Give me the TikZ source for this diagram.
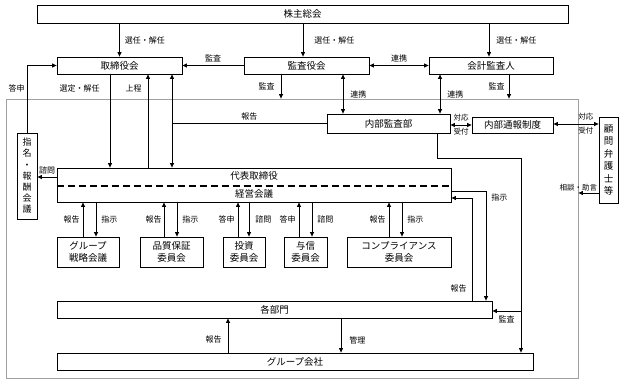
\documentclass[tikz,border=0pt]{standalone}
\usepackage{fontspec}
\setmainfont{Noto Sans CJK JP}
\usetikzlibrary{arrows.meta,positioning}
\definecolor{framegray}{HTML}{A0A0A0}
\tikzset{box/.style={draw=black,line width=.8pt,align=center,font=\fontsize{9.5}{12}\selectfont,inner sep=0pt},
lbl/.style={font=\fontsize{8}{9}\selectfont,inner sep=0pt},
smalllbl/.style={font=\fontsize{7.5}{8}\selectfont,inner sep=1pt},
arr/.style={-{Triangle[length=4.5pt,width=4pt]},line width=.8pt},
dbl/.style={{Triangle[length=4.5pt,width=4pt]}-{Triangle[length=4.5pt,width=4pt]},line width=.8pt}}

\begin{document}
\begin{tikzpicture}[x=1pt,y=-1pt]
\useasboundingbox (0,0) rectangle (624,385);
% company frame
\node[draw=framegray,line width=.8pt,minimum width=572pt,minimum height=279pt,inner sep=0pt] (frame) at (292,238.5) {};
% boxes
\node[box,minimum width=531pt,minimum height=18pt] (soukai) at (302.5,14) {株主総会};
\node[box,minimum width=125pt,minimum height=17pt] (tori) at (119.5,65.5) {取締役会};
\node[box,minimum width=125pt,minimum height=17pt] (kansa) at (306.5,65.5) {監査役会};
\node[box,minimum width=124pt,minimum height=17pt] (kaikei) at (491,65.5) {会計監査人};
\node[box,minimum width=123pt,minimum height=19pt] (naibu) at (388.5,123.5) {内部監査部};
\node[box,minimum width=81pt,minimum height=16pt] (tsuho) at (512.5,125) {内部通報制度};
\node[box,minimum width=19pt,minimum height=86pt,font=\fontsize{9.5}{12.5}\selectfont] (bengo) at (608.5,160) {顧\\問\\弁\\護\\士\\等};
\node[box,minimum width=20pt,minimum height=86pt,font=\fontsize{9}{11.2}\selectfont] (shimei) at (27,176) {指\\名\\・\\報\\酬\\会\\議};
\node[box,minimum width=394pt,minimum height=34pt] (daihyo) at (254,185) {代表取締役\\[6.5pt]経営会議};
\draw[line width=2pt,dash pattern=on 7pt off 4pt] ([yshift=-1pt]daihyo.west) -- ([yshift=-1pt]daihyo.east);
\node[box,minimum width=62pt,minimum height=30pt] (grp) at (88,252) {グループ\\戦略会議};
\node[box,minimum width=63pt,minimum height=30pt] (hinshitsu) at (171.5,252) {品質保証\\委員会};
\node[box,minimum width=42pt,minimum height=30pt] (toshi) at (244,252) {投資\\委員会};
\node[box,minimum width=43pt,minimum height=30pt] (yoshin) at (305.5,252) {与信\\委員会};
\node[box,minimum width=104pt,minimum height=30pt] (comp) at (399,252) {コンプライアンス\\委員会};
\node[box,minimum width=435pt,minimum height=17pt] (kakubu) at (274.5,309.5) {各部門};
\node[box,minimum width=476pt,minimum height=17pt] (gkaisha) at (295,361.5) {グループ会社};
% shareholders and auditors
\draw[arr] (soukai.south -| tori.north) -- (tori.north) node[lbl,midway,right=5pt]{選任・解任};
\draw[arr] ([xshift=-3.5pt]kansa.north |- soukai.south) -- ([xshift=-3.5pt]kansa.north) node[lbl,midway,right=11pt]{選任・解任};
\draw[arr] ([xshift=-2pt]kaikei.north |- soukai.south) -- ([xshift=-2pt]kaikei.north) node[lbl,midway,right=7pt]{選任・解任};
\draw[arr] (kansa.west) -- (tori.east) node[lbl,midway,above=3pt]{監査};
\draw[dbl] (kansa.east) -- (kaikei.west) node[lbl,midway,above=3pt]{連携};
\draw[arr] ([xshift=-25.5pt]kansa.south) -- ([xshift=-25.5pt]kansa.south |- frame.north) node[lbl,midway,left=6pt]{監査};
\draw[arr] ([xshift=18pt]kaikei.south) -- ([xshift=18pt]kaikei.south |- frame.north) node[lbl,midway,left=4pt]{監査};
\draw[dbl] ([xshift=36.5pt]kansa.south) -- ([xshift=36.5pt]kansa.south |- naibu.north) node[lbl,midway,right=7pt]{連携};
\draw[dbl] ([xshift=-51pt]kaikei.south) -- ([xshift=-51pt]kaikei.south |- naibu.north) node[lbl,midway,right=7pt]{連携};
% internal audit and whistleblowing
\draw[dbl] (naibu.east |- tsuho.west) -- (tsuho.west) node[smalllbl,midway,above=2pt]{対応} node[smalllbl,midway,below=2pt]{受付};
\draw[dbl] ([yshift=1pt]tsuho.east) -- ([yshift=1pt]tsuho.east -| bengo.west) node[smalllbl,pos=.72,above=2pt]{対応} node[smalllbl,pos=.72,below=2pt]{受付};
\draw[arr] ([yshift=-33pt]bengo.west) -- ([yshift=-33pt]bengo.west -| frame.east) node[smalllbl,pos=0,above left]{相談・助言};
\draw[arr] (naibu.west) -| ([xshift=52.5pt]tori.south) node[lbl,pos=.25,above=3pt]{報告};
\draw[arr] ([xshift=52.5pt]tori.south |- naibu.west) -- ([xshift=52.5pt]tori.south |- daihyo.north);
% board and representative director
\draw[arr] ([xshift=-9.5pt]tori.south) -- ([xshift=-9.5pt]tori.south |- daihyo.north) node[lbl,pos=.15,left=10pt]{選定・解任};
\draw[arr] ([xshift=28.5pt]tori.south |- daihyo.north) -- ([xshift=28.5pt]tori.south) node[lbl,pos=.85,left=6pt]{上程};
\draw[arr] (shimei.north) |- (tori.west) node[lbl,pos=.33,left=2pt]{答申};
\draw[arr] ([yshift=8pt]daihyo.west) -- ([yshift=8pt]daihyo.west -| shimei.east) node[lbl,midway,above=2pt]{諮問};
% committees
\draw[arr] ([xshift=-5pt]grp.north) -- ([xshift=-5pt]grp.north |- daihyo.south) node[lbl,midway,left=3pt]{報告};
\draw[arr] ([xshift=8pt]grp.north |- daihyo.south) -- ([xshift=8pt]grp.north) node[lbl,midway,right=5pt]{指示};
\draw[arr] ([xshift=-7.5pt]hinshitsu.north) -- ([xshift=-7.5pt]hinshitsu.north |- daihyo.south) node[lbl,midway,left=2pt]{報告};
\draw[arr] ([xshift=5.5pt]hinshitsu.north |- daihyo.south) -- ([xshift=5.5pt]hinshitsu.north) node[lbl,midway,right=5pt]{指示};
\draw[arr] ([xshift=-6pt]toshi.north) -- ([xshift=-6pt]toshi.north |- daihyo.south) node[lbl,midway,left=3pt]{答申};
\draw[arr] ([xshift=5pt]toshi.north |- daihyo.south) -- ([xshift=5pt]toshi.north) node[lbl,midway,right=6pt]{諮問};
\draw[arr] ([xshift=-6.5pt]yoshin.north) -- ([xshift=-6.5pt]yoshin.north |- daihyo.south) node[lbl,midway,left=3pt]{答申};
\draw[arr] ([xshift=6.5pt]yoshin.north |- daihyo.south) -- ([xshift=6.5pt]yoshin.north) node[lbl,midway,right=5pt]{諮問};
\draw[arr] ([xshift=-10pt]comp.north) -- ([xshift=-10pt]comp.north |- daihyo.south) node[lbl,midway,left=3pt]{報告};
\draw[arr] ([xshift=3pt]comp.north |- daihyo.south) -- ([xshift=3pt]comp.north) node[lbl,midway,right=5pt]{指示};
% departments and group companies
\draw[arr] ([yshift=-6pt]daihyo.east) -| ([xshift=211.5pt]kakubu.north) node[lbl,pos=.53,right=5pt]{指示};
\draw[arr] ([xshift=197.5pt]kakubu.north) |- ([yshift=-13pt]daihyo.east) node[lbl,pos=.06,left=5pt]{報告};
\draw[arr] ([xshift=-67pt]gkaisha.north) -- ([xshift=-67pt]gkaisha.north |- kakubu.south) node[lbl,pos=.37,left=6pt]{報告};
\draw[arr] ([xshift=66.5pt]kakubu.south) -- ([xshift=66.5pt]kakubu.south |- gkaisha.north) node[lbl,pos=.63,right=8pt]{管理};
\draw[arr] ([xshift=48.5pt]naibu.south) -- ++(0,25) -| ([xshift=226pt]gkaisha.north);
\draw[arr] ([xshift=226pt,yshift=-1.5pt]gkaisha.north |- kakubu.east) -- ([yshift=-1.5pt]kakubu.east) node[lbl,midway,below=4pt]{監査};
\end{tikzpicture}
\end{document}
